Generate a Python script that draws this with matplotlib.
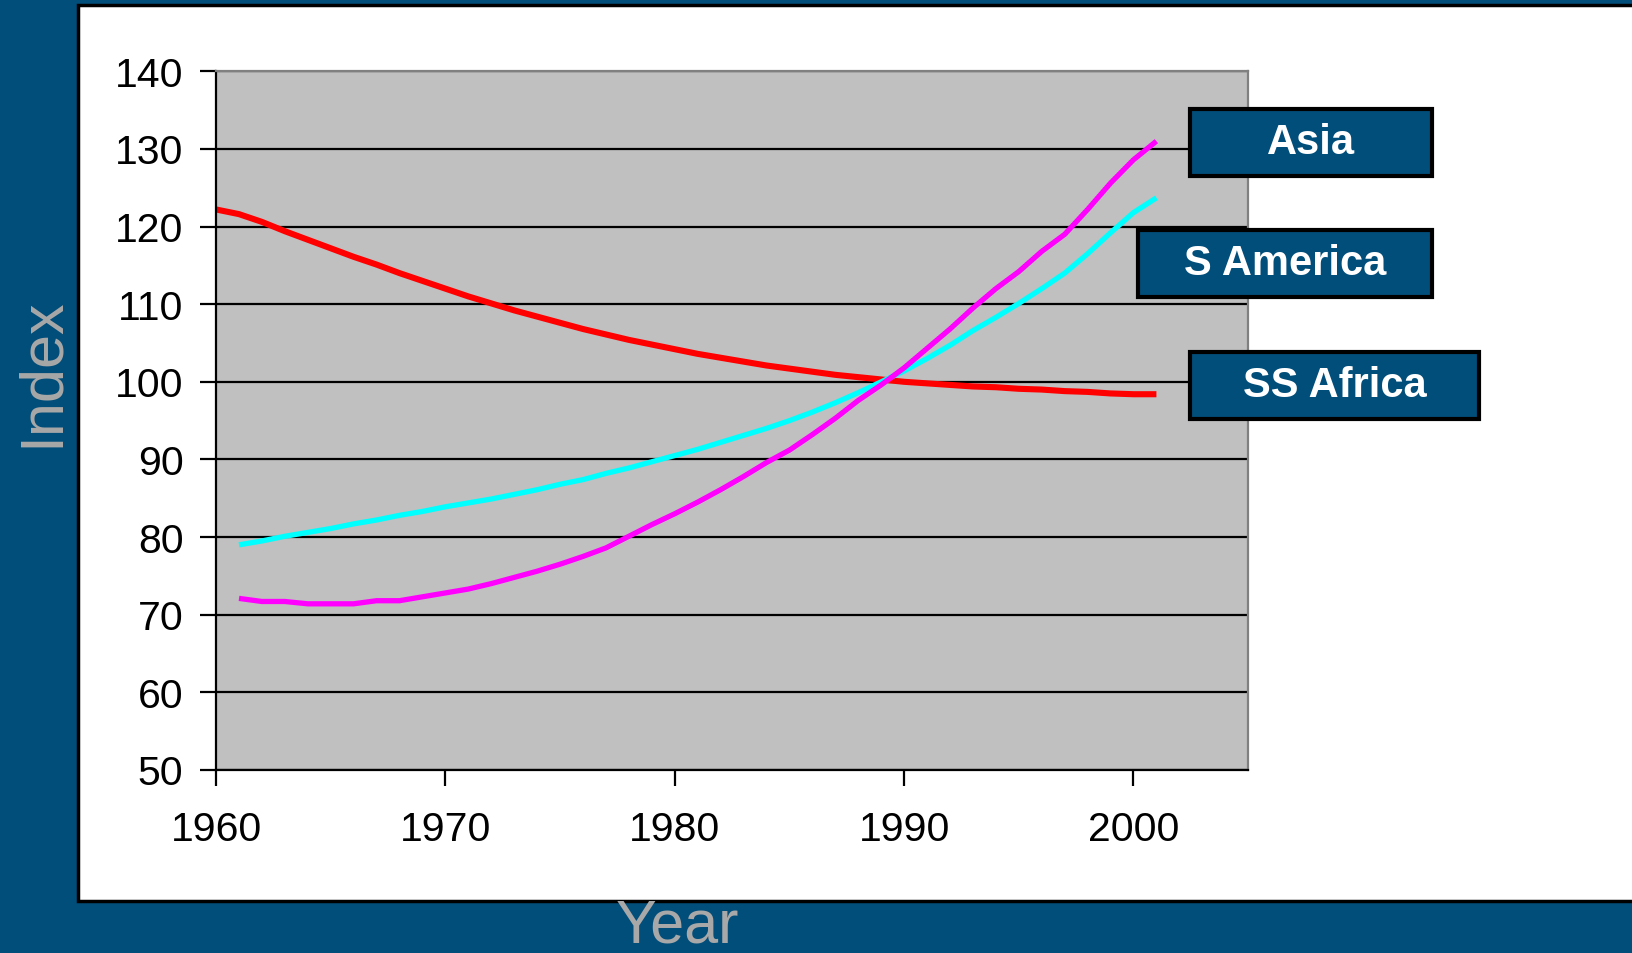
"""Population index by region, 1960-2001 (slide-style chart)."""

import matplotlib
matplotlib.use("Agg")
from matplotlib import pyplot as plt
from matplotlib.patches import Rectangle

plt.rcParams["font.family"] = ["Liberation Sans", "DejaVu Sans"]

# --- Data ---
years = list(range(1961, 2002))
africa_years = list(range(1960, 2002))

asia = [72.1, 71.7, 71.7, 71.4, 71.4, 71.4, 71.8, 71.8, 72.3, 72.8,
        73.3, 74.0, 74.8, 75.6, 76.5, 77.5, 78.6, 80.1, 81.6, 83.0,
        84.5, 86.1, 87.8, 89.6, 91.2, 93.2, 95.3, 97.6, 99.6, 101.8,
        104.3, 106.8, 109.5, 112.0, 114.2, 116.8, 119.0, 122.2, 125.6, 128.6,
        131.0]

s_america = [79.0, 79.5, 80.1, 80.6, 81.1, 81.7, 82.2, 82.8, 83.3, 83.9,
             84.4, 84.9, 85.5, 86.1, 86.8, 87.4, 88.2, 88.9, 89.7, 90.5,
             91.3, 92.2, 93.1, 94.0, 95.0, 96.1, 97.3, 98.6, 100.0, 101.4,
             103.0, 104.7, 106.6, 108.3, 110.1, 112.0, 114.0, 116.5, 119.2, 121.8,
             123.7]

ss_africa = [122.2, 121.6, 120.6, 119.4, 118.3, 117.2, 116.1, 115.1, 114.0, 113.0,
             112.0, 111.0, 110.1, 109.2, 108.4, 107.6, 106.8, 106.1, 105.4, 104.8,
             104.2, 103.6, 103.1, 102.6, 102.1, 101.7, 101.3, 100.9, 100.6, 100.3,
             100.0, 99.8, 99.6, 99.4, 99.3, 99.1, 99.0, 98.8, 98.7, 98.5,
             98.4, 98.4]

x_ticks = [1960, 1970, 1980, 1990, 2000]
y_ticks = [50, 60, 70, 80, 90, 100, 110, 120, 130, 140]

BG = "#024e7a"
LABEL_GREY = "#a8a8a8"

fig = plt.figure(figsize=(16.32, 9.535), dpi=100)
fig.patch.set_facecolor(BG)

# white slide panel
fig.patches.append(Rectangle((0.0478, 0.0546), 1.0, 0.940, transform=fig.transFigure,
                             facecolor="white", edgecolor="black", linewidth=2.5, zorder=-1))

ax = fig.add_axes([0.1324, 0.192, 0.6324, 0.7327])
ax.set_facecolor("#c0c0c0")

ax.plot(africa_years, ss_africa, color="#ff0000", linewidth=4.4, solid_capstyle="butt")
ax.plot(years, s_america, color="#00ffff", linewidth=3.8, solid_capstyle="butt")
ax.plot(years, asia, color="#ff00ff", linewidth=3.8, solid_capstyle="butt")

ax.set_xlim(1960, 2005)
ax.set_ylim(50, 140)
ax.set_xticks(x_ticks)
ax.set_yticks(y_ticks)
ax.yaxis.grid(True, color="black", linewidth=1.6)
ax.set_axisbelow(True)

ax.tick_params(axis="both", direction="out", length=11.5, width=1.6, labelsize=29.5, color="black")
ax.tick_params(axis="y", pad=12)
ax.tick_params(axis="x", pad=18)

for side in ["left", "bottom"]:
    ax.spines[side].set_color("black")
    ax.spines[side].set_linewidth(1.6)
for side in ["top", "right"]:
    ax.spines[side].set_color("#808080")
    ax.spines[side].set_linewidth(1.6)

fig.text(0.0257, 0.610, "Index", rotation=90, ha="center", va="center",
         fontsize=44, color=LABEL_GREY)
fig.text(0.415, 0.028, "Year", ha="center", va="center", fontsize=44, color=LABEL_GREY)

# --- Region label boxes ---
labels = ["Asia", "S America", "SS Africa"]
boxes = [(0.7292, 0.8153, 0.1483), (0.6973, 0.6884, 0.1801), (0.7292, 0.5603, 0.1771)]
box_h = 0.0703
for name, (x0, y0, w) in zip(labels, boxes):
    fig.patches.append(Rectangle((x0, y0), w, box_h, transform=fig.transFigure,
                                 facecolor=BG, edgecolor="black", linewidth=3, zorder=3))
    fig.text(x0 + w / 2, y0 + box_h / 2, name, ha="center", va="center",
             fontsize=30, fontweight="bold", color="white", zorder=4)

fig.savefig("out.png", dpi=100, facecolor=fig.get_facecolor())
